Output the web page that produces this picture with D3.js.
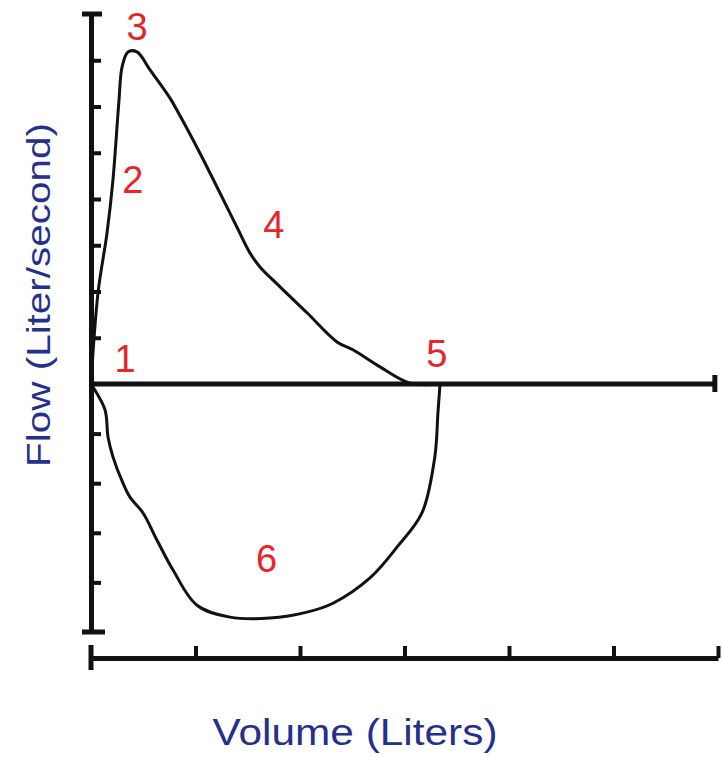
<!DOCTYPE html>
<meta charset="utf-8">
<script src="https://d3js.org/d3.v7.min.js"></script>
<style>
  body { margin: 0; background: #fff; }
</style>
<div id="chart"></div>
<script>

// expiration limb (volume in liters, flow in liter/second)
var expVolume = [0, 0.067, 0.153, 0.21, 0.268, 0.297, 0.354, 0.44, 0.565, 0.756, 0.823, 1.043, 1.397, 1.522, 1.617, 1.809, 2.067, 2.354, 2.507, 2.766, 3.053, 3.34];
var expFlow   = [0, 1.97, 3.26, 4.41, 6.14, 6.85, 7.18, 7.18, 6.79, 6.18, 5.92, 4.99, 3.39, 2.83, 2.53, 2.10, 1.54, 0.91, 0.74, 0.37, 0.02, 0];

// inspiration limb
var insVolume = [3.34, 3.32, 3.29, 3.167, 2.928, 2.67, 2.316, 2.067, 1.713, 1.33, 1.014, 0.785, 0.632, 0.498, 0.373, 0.306, 0.21, 0.163, 0.134, 0.019, 0];
var insFlow   = [0, -0.58, -1.47, -2.60, -3.29, -3.91, -4.42, -4.60, -4.72, -4.70, -4.46, -3.75, -3.15, -2.60, -2.28, -2.00, -1.47, -1.07, -0.52, -0.06, 0];

// numbered points on the loop
var markText   = ["1", "2", "3", "4", "5", "6"];
var markVolume = [0.325, 0.40, 0.44, 1.75, 3.31, 1.68];
var markFlow   = [0.26, 4.13, 7.44, 3.16, 0.37, -3.79];

var xTicks = [1, 2, 3, 4, 5, 6];
var yTicks = [-4, -3, -2, -1, 1, 2, 3, 4, 5, 6, 7];

var width = 722, height = 757;

var svg = d3.select("#chart")
  .append("svg")
    .attr("width", width)
    .attr("height", height);

// volume axis
var x = d3.scaleLinear()
  .domain([0, 6])
  .range([91, 718]);

// flow axis, the negative part is spaced a bit wider
var y = d3.scaleLinear()
  .domain([-5, 0, 8])
  .range([632, 384, 14]);

var ink = "#111";

// Y axis with ticks to the right
var yAxis = svg.append("g")
  .attr("transform", "translate(" + x(0) + ",0)")
  .call(d3.axisRight(y).tickValues(yTicks).tickSize(10).tickSizeOuter(0).tickFormat(""));
yAxis.select(".domain").attr("stroke", ink).attr("stroke-width", 5);
yAxis.selectAll(".tick line").attr("stroke", ink).attr("stroke-width", 4);

// end caps of the y axis
svg.append("line")
  .attr("x1", x(0) - 9).attr("x2", x(0) + 11)
  .attr("y1", y(8)).attr("y2", y(8))
  .attr("stroke", ink).attr("stroke-width", 5);
svg.append("line")
  .attr("x1", x(0) - 9).attr("x2", x(0) + 14)
  .attr("y1", y(-5)).attr("y2", y(-5))
  .attr("stroke", ink).attr("stroke-width", 5);

// zero flow line
svg.append("line")
  .attr("x1", x(0)).attr("x2", x(5.97))
  .attr("y1", y(0)).attr("y2", y(0))
  .attr("stroke", ink).attr("stroke-width", 5);
svg.append("line")
  .attr("x1", x(5.97)).attr("x2", x(5.97))
  .attr("y1", y(0) - 9).attr("y2", y(0) + 8)
  .attr("stroke", ink).attr("stroke-width", 5);

// X axis below the loop, ticks pointing up
var xAxis = svg.append("g")
  .attr("transform", "translate(0,658)")
  .call(d3.axisTop(x).tickValues(xTicks).tickSize(12).tickSizeOuter(0).tickFormat(""));
xAxis.select(".domain").attr("stroke", ink).attr("stroke-width", 5);
xAxis.selectAll(".tick line").attr("stroke", ink).attr("stroke-width", 4);

svg.append("line")
  .attr("x1", x(0)).attr("x2", x(0))
  .attr("y1", 645).attr("y2", 670)
  .attr("stroke", ink).attr("stroke-width", 5);

// the flow-volume loop, lightly smoothed like the hand-drawn original
var line = d3.line()
  .x(function(d) { return x(d[0]); })
  .y(function(d) { return y(d[1]); })
  .curve(d3.curveCatmullRom.alpha(0.5));

var expData = expVolume.map(function(v, i) { return [v, expFlow[i]]; });
var insData = insVolume.map(function(v, i) { return [v, insFlow[i]]; });

[expData, insData].forEach(function(d) {
  svg.append("path")
    .datum(d)
    .attr("d", line)
    .attr("fill", "none")
    .attr("stroke", ink)
    .attr("stroke-width", 3)
    .attr("stroke-linejoin", "round")
    .attr("stroke-linecap", "round");
});

// red numbers
svg.selectAll(".mark")
  .data(markText)
  .enter()
  .append("text")
    .attr("class", "mark")
    .attr("x", function(d, i) { return x(markVolume[i]); })
    .attr("y", function(d, i) { return y(markFlow[i]); })
    .attr("text-anchor", "middle")
    .style("font-family", "'Liberation Sans', Arial, sans-serif")
    .style("font-size", "38px")
    .style("fill", "#e5262b")
    .text(function(d) { return d; });

// axis titles
svg.append("text")
  .attr("x", 355)
  .attr("y", 745)
  .attr("text-anchor", "middle")
  .attr("textLength", 285)
  .attr("lengthAdjust", "spacingAndGlyphs")
  .style("font-family", "'Liberation Sans', Arial, sans-serif")
  .style("font-size", "36px")
  .style("fill", "#25308a")
  .text("Volume (Liters)");

svg.append("text")
  .attr("transform", "translate(50,295) rotate(-90)")
  .attr("text-anchor", "middle")
  .attr("textLength", 344)
  .attr("lengthAdjust", "spacingAndGlyphs")
  .style("font-family", "'Liberation Sans', Arial, sans-serif")
  .style("font-size", "34px")
  .style("fill", "#25308a")
  .text("Flow (Liter/second)");

</script>
